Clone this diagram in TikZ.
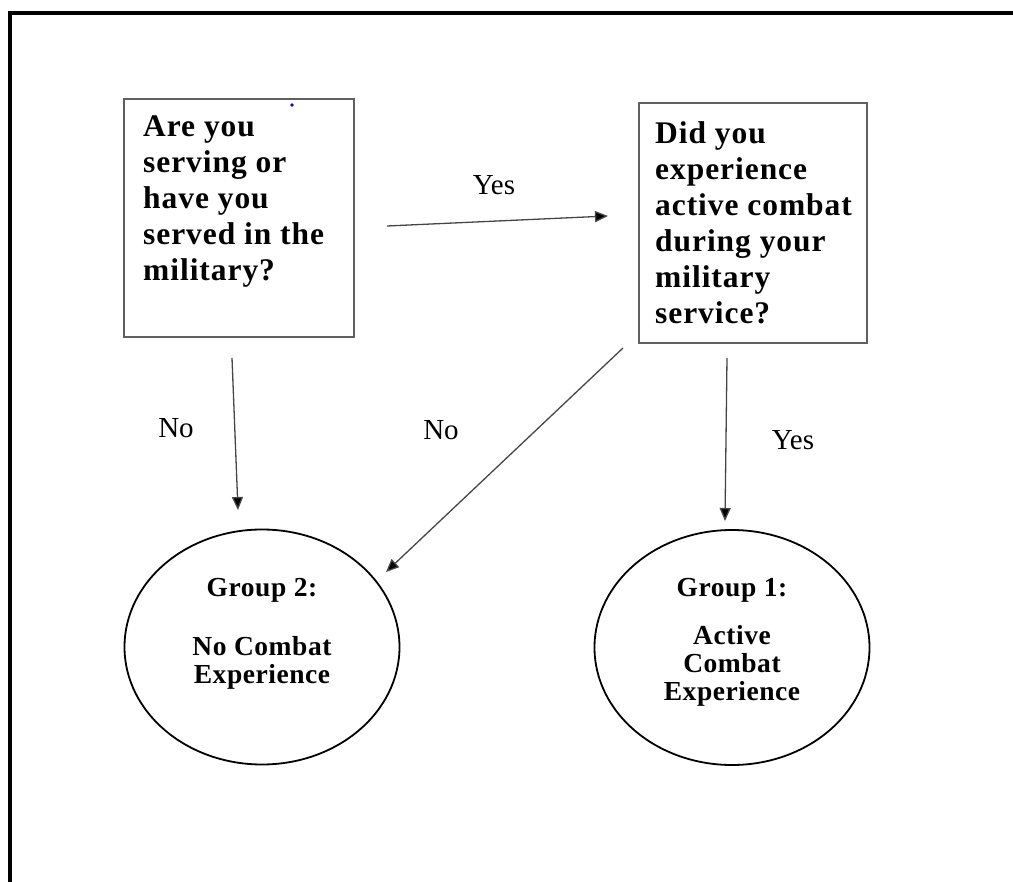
\documentclass[tikz,border=0pt]{standalone}
\usepackage{fontspec}
\setmainfont{Liberation Serif}
\newfontfamily\boxfont[LetterSpace=3]{Liberation Serif}
\newfontfamily\grpfont[LetterSpace=2]{Liberation Serif}
\usetikzlibrary{arrows.meta,shapes.geometric}
\tikzset{
  qbox/.style={draw=gray!75!black, line width=1.3pt, rectangle, inner sep=0pt},
  qtext/.style={anchor=north west, inner sep=0pt, align=left, font=\boxfont\fontsize{31.5}{36}\selectfont\bfseries},
  grp/.style={draw=black, line width=1.8pt, ellipse, inner sep=0pt, minimum width=275pt, minimum height=235pt},
  gtext/.style={inner sep=0pt, align=center, font=\grpfont\fontsize{27.5}{28}\selectfont\bfseries},
  lbl/.style={inner sep=0pt, font=\fontsize{29}{30}\selectfont},
  conn/.style={draw=gray!55!black, line width=1.3pt, -{Triangle[length=13pt,width=11pt,fill=black]}},
  frame/.style={draw=black, line width=4pt}
}
\begin{document}
\begin{tikzpicture}[x=1pt,y=-1pt]
\useasboundingbox (0,0) rectangle (1013,882);
% outer frame (top and left only)
\coordinate (fTR) at (1013,13.5);
\coordinate (fTL) at (9.5,13.5);
\coordinate (fBL) at (9.5,882);
\draw[frame] (fTR) -- (fTL) -- (fBL);
% question boxes
\node[qbox, minimum width=230pt, minimum height=238pt] (q1) at (239,218) {};
\node[qbox, minimum width=228pt, minimum height=240pt] (q2) at (753,223) {};
\node[qtext] (q1t) at (143,116) {Are you\\serving or\\have you\\served in the\\military?};
\node[qtext] (q2t) at (655,121) {Did you\\experience\\active combat\\during your\\military\\service?};
\fill[blue] (292,105) circle (1.8pt);
% groups
\node[grp] (g2) at (262,647) {};
\node[grp] (g1) at (732,647.5) {};
\node[gtext] (g2a) at (262,590) {Group 2:};
\node[gtext] (g2b) at (262,663) {No Combat\\Experience};
\node[gtext] (g1a) at (732,590) {Group 1:};
\node[gtext] (g1b) at (732,666) {Active\\Combat\\Experience};
% arrow end points
\coordinate (a1s) at (387,226);
\coordinate (a1e) at (608,216);
\coordinate (a2s) at (232,358);
\coordinate (a2e) at (238,510);
\coordinate (a3s) at (623,348);
\coordinate (a3e) at (386,572);
\coordinate (a4s) at (727,358);
\coordinate (a4e) at (725,521);
\draw[conn] (a1s) -- (a1e);
\draw[conn] (a2s) -- (a2e);
\draw[conn] (a3s) -- (a3e);
\draw[conn] (a4s) -- (a4e);
% labels
\node[lbl] (l1) at (494,185) {Yes};
\node[lbl] (l2) at (176,428) {No};
\node[lbl] (l3) at (441,430) {No};
\node[lbl] (l4) at (793,440) {Yes};
\end{tikzpicture}
\end{document}
